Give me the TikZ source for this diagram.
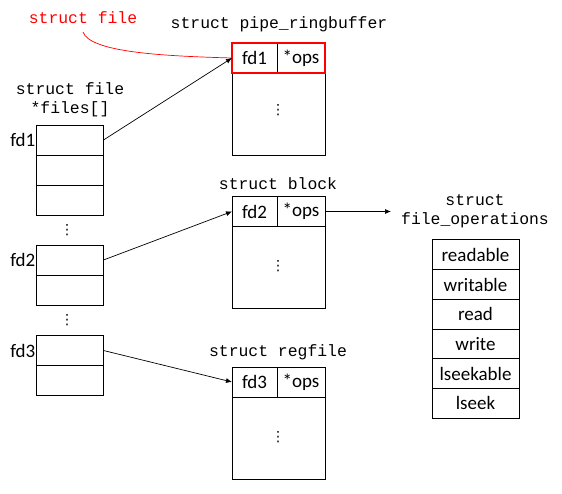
\documentclass[tikz,border=0pt]{standalone}
\usepackage{fontspec}
\setmainfont{Carlito}
\setmonofont{Liberation Mono}
\newfontfamily\symfont{DejaVu Sans}
\usepackage{tikz}
\usetikzlibrary{positioning}
\usetikzlibrary{arrows.meta}

\begin{document}
\begin{tikzpicture}[
  x=1pt, y=-1pt,
  cell/.style={
    rectangle,
    draw=black,
    line width=0.9pt,
    minimum width=67pt,
    minimum height=30pt,
    inner sep=0pt,
    outer sep=0pt,
    font=\fontsize{19}{21}\selectfont
  },
  fld/.style={cell, minimum width=#1},
  body/.style={cell, minimum width=93pt, minimum height=82pt},
  tname/.style={font=\ttfamily\fontsize{16.4}{19}\selectfont, align=center, inner sep=0pt},
  fdname/.style={font=\fontsize{19}{21}\selectfont, inner sep=1pt},
  vdot/.style={inner sep=0pt, font=\symfont\fontsize{14}{14}\selectfont},
  ptr/.style={-{Latex[length=6pt,width=5pt]}, line width=0.7pt}
]
\useasboundingbox (0,0) rectangle (562,494);
% files[] array
\node[tname] (arrname) at (70,100) {struct file\\*files[]};
\node[cell] (a1) at (70,140) {};
\node[cell, below=0pt of a1] (a2) {};
\node[cell, below=0pt of a2] (a3) {};
\node[vdot] (dots1) at (67,230) {⋮};
\node[cell] (b1) at (70,260) {};
\node[cell, below=0pt of b1] (b2) {};
\node[vdot] (dots2) at (67,320) {⋮};
\node[cell] (c1) at (70,350.5) {};
\node[cell, below=0pt of c1] (c2) {};
\node[fdname, left=0pt of a1] (fd1) {fd1};
\node[fdname, left=0pt of b1] (fd2) {fd2};
\node[fdname, left=0pt of c1] (fd3) {fd3};
% struct pipe_ringbuffer
\node[tname] (pname) at (279,24) {struct pipe\_ringbuffer};
\node[fld=45pt] (pfd) at (254.5,58) {fd1};
\node[fld=48pt, right=0pt of pfd] (pops) {*ops};
\node[body, below=0pt of pfd.south west, anchor=north west] (pbody) {};
\node[vdot] (pdots) at (278,110) {⋮};
\draw[red, line width=2pt] (pfd.north west) rectangle (pops.south east);
% struct block
\node[tname] (bname) at (278,184) {struct block};
\node[fld=45pt] (bfd) at (254.5,211.5) {fd2};
\node[fld=48pt, right=0pt of bfd] (bops) {*ops};
\node[body, below=0pt of bfd.south west, anchor=north west] (bbody) {};
\node[vdot] (bdots) at (278,266) {⋮};
% struct regfile
\node[tname] (rname) at (278,352) {struct regfile};
\node[fld=45pt] (rfd) at (254.5,382) {fd3};
\node[fld=48pt, right=0pt of rfd] (rops) {*ops};
\node[body, below=0pt of rfd.south west, anchor=north west] (rbody) {};
\node[vdot] (rdots) at (278,437) {⋮};
% struct file_operations
\node[tname] (oname) at (475,211) {struct\\file\_operations};
\node[fld=87pt, minimum height=29.7pt] (o1) at (475.5,254.8) {readable};
\foreach \txt [count=\i from 2, remember=\i as \j (initially 1)] in {writable,read,write,lseekable,lseek}
  \node[fld=87pt, minimum height=29.7pt, below=0pt of o\j] (o\i) {\txt};
% pointers
\node[tname, text=red] (fname) at (83,18) {struct file};
\draw[red, line width=0.7pt] (83,32) .. controls (90,52) and (160,56) .. (pfd.west);
\draw[ptr] (a1.east) -- (pfd.west);
\draw[ptr] (b1.east) -- (bfd.west);
\draw[ptr] (c1.east) -- (rfd.west);
\coordinate (opsend) at (391,211.5);
\draw[ptr] (bops.east) -- (opsend);
\end{tikzpicture}
\end{document}
